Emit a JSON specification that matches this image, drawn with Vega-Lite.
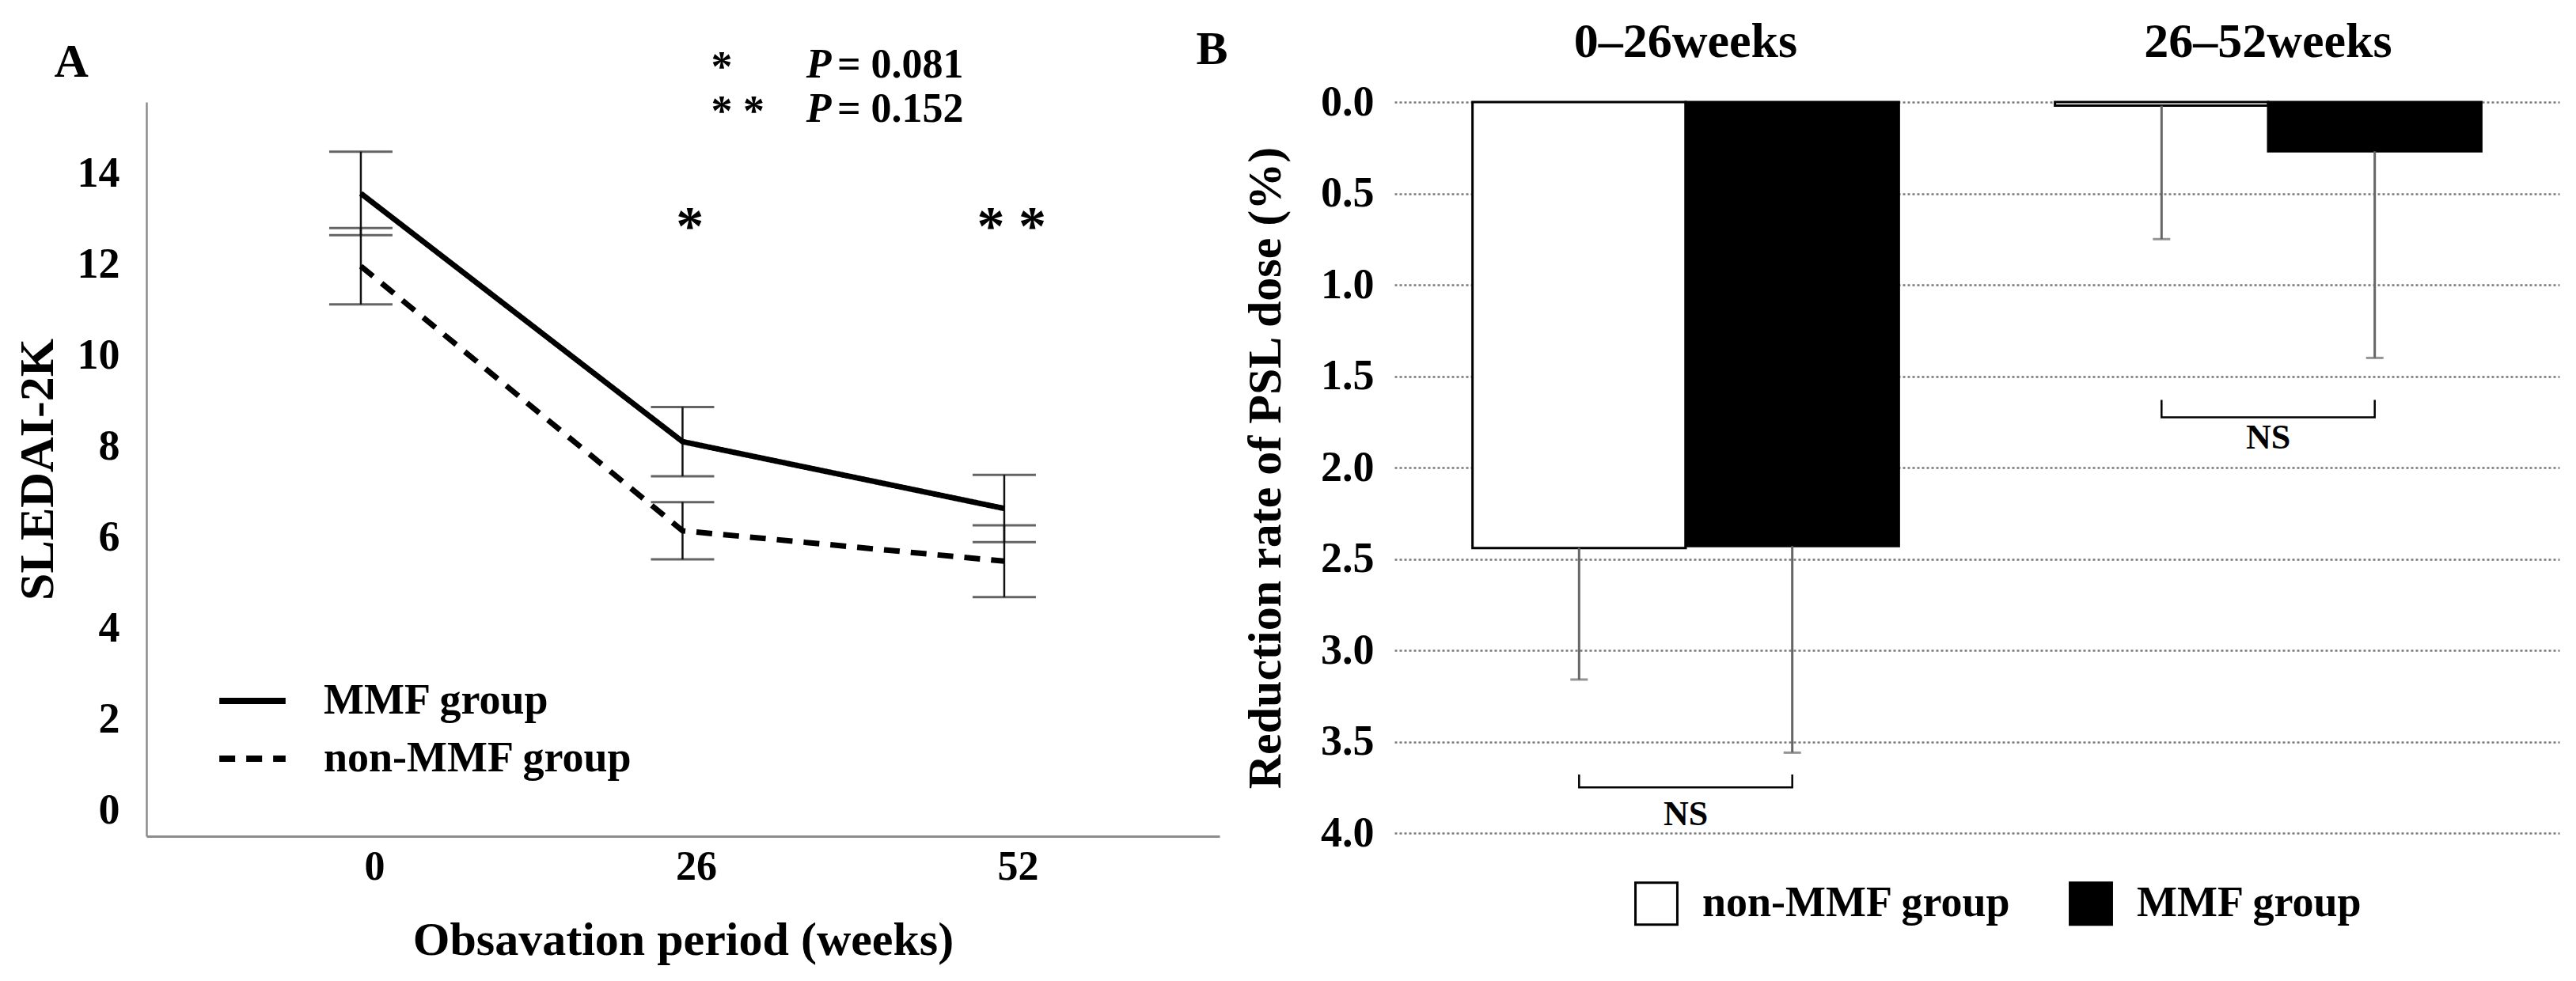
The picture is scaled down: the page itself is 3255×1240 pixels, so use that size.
{
  "$schema": "https://vega.github.io/schema/vega-lite/v6.json",
  "background": "white",
  "padding": {"left": 16, "top": 21, "right": 10, "bottom": 10},
  "bounds": "flush",
  "spacing": 221,
  "config": {"view": {"stroke": null}, "font": "Liberation Serif"},
  "datasets": {
    "sledai": [
      {"week": 0, "group": "MMF group", "mean": 13.57, "lo": 12.65, "hi": 14.49},
      {"week": 26, "group": "MMF group", "mean": 8.11, "lo": 7.35, "hi": 8.87},
      {"week": 52, "group": "MMF group", "mean": 6.64, "lo": 5.9, "hi": 7.38},
      {"week": 0, "group": "non-MMF group", "mean": 11.97, "lo": 11.13, "hi": 12.81},
      {"week": 26, "group": "non-MMF group", "mean": 6.15, "lo": 5.52, "hi": 6.78},
      {"week": 52, "group": "non-MMF group", "mean": 5.48, "lo": 4.69, "hi": 6.27}
    ],
    "starsA": [
      {"week": 26.6, "y": 12.87, "label": "*"},
      {"week": 52.6, "y": 12.87, "label": "* *"}
    ],
    "headStars": [
      {"week": 28.3, "y": 16.4, "label": "*"},
      {"week": 28.3, "y": 15.42, "label": "* *"}
    ],
    "headP": [
      {"week": 36.0, "y": 16.4, "label": "P"},
      {"week": 36.0, "y": 15.42, "label": "P"}
    ],
    "headVal": [
      {"week": 38.5, "y": 16.4, "label": "= 0.081"},
      {"week": 38.5, "y": 15.42, "label": "= 0.152"}
    ],
    "panelLabels": [
      {"week": -23.4, "y": 16.45, "label": "A"},
      {"week": 68.8, "y": 16.72, "label": "B"}
    ],
    "psl": [
      {"period": "0–26weeks", "group": "non-MMF group", "value": 2.44, "upper": 3.16},
      {"period": "0–26weeks", "group": "MMF group", "value": 2.43, "upper": 3.56},
      {"period": "26–52weeks", "group": "non-MMF group", "value": 0.02, "upper": 0.75},
      {"period": "26–52weeks", "group": "MMF group", "value": 0.27, "upper": 1.4}
    ],
    "brackets": [
      {"period": "0–26weeks", "group": "non-MMF group", "y": 3.68, "ord": 1},
      {"period": "0–26weeks", "group": "non-MMF group", "y": 3.75, "ord": 2},
      {"period": "0–26weeks", "group": "MMF group", "y": 3.75, "ord": 3},
      {"period": "0–26weeks", "group": "MMF group", "y": 3.68, "ord": 4},
      {"period": "26–52weeks", "group": "non-MMF group", "y": 1.63, "ord": 1},
      {"period": "26–52weeks", "group": "non-MMF group", "y": 1.725, "ord": 2},
      {"period": "26–52weeks", "group": "MMF group", "y": 1.725, "ord": 3},
      {"period": "26–52weeks", "group": "MMF group", "y": 1.63, "ord": 4}
    ],
    "ns": [
      {"period": "0–26weeks", "y": 3.9, "label": "NS"},
      {"period": "26–52weeks", "y": 1.84, "label": "NS"}
    ]
  },
  "hconcat": [
    {
      "width": 1356,
      "height": 928,
      "layer": [
        {
          "data": {"name": "sledai"},
          "mark": {"type": "errorbar", "ticks": {"size": 80, "thickness": 3, "color": "#222"}, "rule": {"strokeWidth": 2.5, "color": "#111"}},
          "encoding": {
            "x": {"field": "week", "type": "quantitative", "title": "Obsavation period (weeks)"},
            "y": {"field": "lo", "type": "quantitative", "title": "SLEDAI-2K"},
            "y2": {"field": "hi"},
            "detail": {"field": "group"}
          }
        },
        {
          "data": {"name": "sledai"},
          "mark": {"type": "line", "color": "black", "strokeWidth": 7},
          "encoding": {
            "x": {
              "field": "week", "type": "quantitative", "title": "Obsavation period (weeks)",
              "scale": {"domain": [-17.33, 69.4], "nice": false, "zero": false},
              "axis": {"values": [0, 26, 52], "format": "d", "grid": false, "ticks": false, "domainColor": "#8c8c8c", "domainWidth": 3,
                       "labelFontSize": 52, "labelFontWeight": "bold", "labelColor": "black", "labelOffset": 17, "labelPadding": 13,
                       "titleFontSize": 60, "titleFontWeight": "bold", "titleColor": "black", "titlePadding": 38}
            },
            "y": {
              "field": "mean", "type": "quantitative", "title": "SLEDAI-2K",
              "scale": {"domain": [-0.57, 15.58], "nice": false, "zero": false},
              "axis": {"values": [0, 2, 4, 6, 8, 10, 12, 14], "format": "d", "grid": false, "ticks": false, "domainColor": "#8c8c8c", "domainWidth": 2.5,
                       "labelFontSize": 54, "labelFontWeight": "bold", "labelColor": "black", "labelPadding": 34,
                       "titleFontSize": 62, "titleFontWeight": "bold", "titleColor": "black", "titlePadding": 18}
            },
            "strokeDash": {
              "field": "group", "type": "nominal",
              "scale": {"domain": ["MMF group", "non-MMF group"], "range": [[1, 0], [20, 14]]},
              "legend": {"title": null, "orient": "none", "legendX": 88, "legendY": 711, "symbolType": "stroke", "symbolSize": 7000,
                         "symbolStrokeWidth": 8, "symbolStrokeColor": "black", "labelFontSize": 54, "labelFontWeight": "bold",
                         "labelColor": "black", "labelOffset": 44, "labelLimit": 0, "rowPadding": 0, "padding": 0}
            }
          }
        },
        {
          "data": {"name": "starsA"},
          "mark": {"type": "text", "fontSize": 70, "fontWeight": "bold", "baseline": "middle", "align": "center", "dy": 3, "color": "black"},
          "encoding": {
            "x": {"field": "week", "type": "quantitative", "title": "Obsavation period (weeks)"},
            "y": {"field": "y", "type": "quantitative", "title": "SLEDAI-2K"},
            "text": {"field": "label"}
          }
        },
        {
          "data": {"name": "headStars"},
          "mark": {"type": "text", "fontSize": 54, "fontWeight": "bold", "baseline": "middle", "align": "left", "dy": 4, "color": "black"},
          "encoding": {
            "x": {"field": "week", "type": "quantitative", "title": "Obsavation period (weeks)"},
            "y": {"field": "y", "type": "quantitative", "title": "SLEDAI-2K"},
            "text": {"field": "label"}
          }
        },
        {
          "data": {"name": "headP"},
          "mark": {"type": "text", "fontSize": 52, "fontWeight": "bold", "fontStyle": "italic", "baseline": "middle", "align": "left", "color": "black"},
          "encoding": {
            "x": {"field": "week", "type": "quantitative", "title": "Obsavation period (weeks)"},
            "y": {"field": "y", "type": "quantitative", "title": "SLEDAI-2K"},
            "text": {"field": "label"}
          }
        },
        {
          "data": {"name": "headVal"},
          "mark": {"type": "text", "fontSize": 52, "fontWeight": "bold", "baseline": "middle", "align": "left", "color": "black"},
          "encoding": {
            "x": {"field": "week", "type": "quantitative", "title": "Obsavation period (weeks)"},
            "y": {"field": "y", "type": "quantitative", "title": "SLEDAI-2K"},
            "text": {"field": "label"}
          }
        },
        {
          "data": {"name": "panelLabels"},
          "mark": {"type": "text", "fontSize": 60, "fontWeight": "bold", "baseline": "middle", "align": "center", "color": "black"},
          "encoding": {
            "x": {"field": "week", "type": "quantitative", "title": "Obsavation period (weeks)"},
            "y": {"field": "y", "type": "quantitative", "title": "SLEDAI-2K"},
            "text": {"field": "label"}
          }
        }
      ]
    },
    {
      "width": 1472,
      "height": 924,
      "layer": [
        {
          "data": {"name": "psl"},
          "mark": {"type": "bar", "stroke": "black", "strokeWidth": 3},
          "encoding": {
            "x": {
              "field": "period", "type": "nominal", "sort": ["0–26weeks", "26–52weeks"],
              "scale": {"paddingInner": 0.268, "paddingOuter": 0.134},
              "axis": {"orient": "top", "title": null, "labelAngle": 0, "domain": false, "ticks": false, "grid": false, "labelLimit": 0,
                       "labelFontSize": 62, "labelFontWeight": "bold", "labelColor": "black", "labelPadding": 45}
            },
            "xOffset": {"field": "group", "type": "nominal", "scale": {"domain": ["non-MMF group", "MMF group"]}},
            "y": {
              "field": "value", "type": "quantitative", "title": "Reduction rate of PSL dose (%)",
              "scale": {"domain": [0, 4], "reverse": true, "nice": false},
              "axis": {"values": [0, 0.5, 1, 1.5, 2, 2.5, 3, 3.5, 4], "format": ".1f", "domain": false, "ticks": false,
                       "grid": true, "gridColor": "#7a7a7a", "gridDash": [3, 3], "gridWidth": 2.5,
                       "labelFontSize": 54, "labelFontWeight": "bold", "labelColor": "black", "labelPadding": 26,
                       "titleFontSize": 60, "titleFontWeight": "bold", "titleColor": "black", "titlePadding": 38}
            },
            "fill": {
              "field": "group", "type": "nominal",
              "scale": {"domain": ["non-MMF group", "MMF group"], "range": ["white", "black"]},
              "legend": {"title": null, "orient": "none", "direction": "horizontal", "legendX": 1880, "legendY": 985,
                         "symbolType": "square", "symbolSize": 2800, "symbolStrokeColor": "black", "symbolStrokeWidth": 3,
                         "symbolOpacity": 1, "labelFontSize": 54, "labelFontWeight": "bold", "labelColor": "black",
                         "labelOffset": 30, "labelLimit": 0, "columnPadding": 67, "padding": 0}
            }
          }
        },
        {
          "mark": {"type": "rule", "color": "#d4d4d4", "strokeWidth": 5},
          "encoding": {"y": {"datum": 0, "type": "quantitative"}}
        },
        {
          "data": {"name": "psl"},
          "mark": {"type": "rule", "color": "#666666", "strokeWidth": 3},
          "encoding": {
            "x": {"field": "period", "type": "nominal", "sort": ["0–26weeks", "26–52weeks"]},
            "xOffset": {"field": "group", "type": "nominal"},
            "y": {"field": "value", "type": "quantitative", "title": "Reduction rate of PSL dose (%)"},
            "y2": {"field": "upper"}
          }
        },
        {
          "data": {"name": "psl"},
          "mark": {"type": "tick", "color": "#666666", "thickness": 3, "size": 22, "orient": "horizontal"},
          "encoding": {
            "x": {"field": "period", "type": "nominal", "sort": ["0–26weeks", "26–52weeks"]},
            "xOffset": {"field": "group", "type": "nominal"},
            "y": {"field": "upper", "type": "quantitative", "title": "Reduction rate of PSL dose (%)"}
          }
        },
        {
          "data": {"name": "brackets"},
          "mark": {"type": "line", "color": "black", "strokeWidth": 2.5},
          "encoding": {
            "x": {"field": "period", "type": "nominal", "sort": ["0–26weeks", "26–52weeks"]},
            "xOffset": {"field": "group", "type": "nominal"},
            "y": {"field": "y", "type": "quantitative", "title": "Reduction rate of PSL dose (%)"},
            "detail": {"field": "period"},
            "order": {"field": "ord"}
          }
        },
        {
          "data": {"name": "ns"},
          "mark": {"type": "text", "fontSize": 44, "fontWeight": "bold", "baseline": "middle", "align": "center", "color": "black"},
          "encoding": {
            "x": {"field": "period", "type": "nominal", "sort": ["0–26weeks", "26–52weeks"]},
            "y": {"field": "y", "type": "quantitative", "title": "Reduction rate of PSL dose (%)"},
            "text": {"field": "label"}
          }
        }
      ]
    }
  ]
}
